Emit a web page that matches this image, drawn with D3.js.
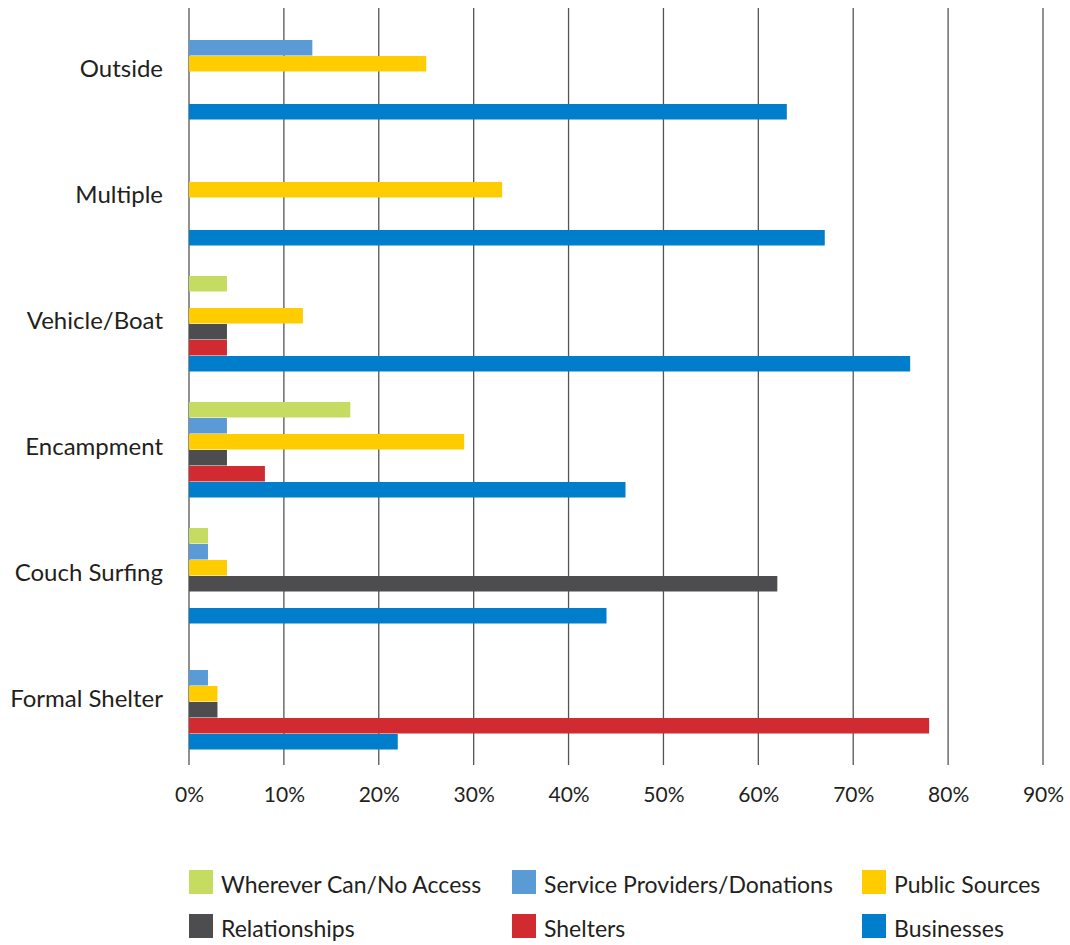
<!DOCTYPE html>
<html>
<head>
<meta charset="utf-8">
<script src="https://cdn.jsdelivr.net/npm/d3@7"></script>
<style>
  body { margin: 0; background: #fff; }
  text { font-family: Lato, "Noto Sans", sans-serif; fill: #231f20; }
</style>
</head>
<body>
<div id="graf"></div>
<script>
// Datos del gráfico
const categorias = ['Outside', 'Multiple', 'Vehicle/Boat', 'Encampment', 'Couch Surfing', 'Formal Shelter']
const series = ['Wherever Can/No Access', 'Service Providers/Donations', 'Public Sources', 'Relationships', 'Shelters', 'Businesses']
const colores = ['#c5dc62', '#5b9bd5', '#ffcc00', '#4d4d4f', '#d12b31', '#007dcb']

const wherever = [0, 0, 4, 17, 2, 0]
const servicios = [13, 0, 0, 4, 2, 2]
const publicas = [25, 33, 12, 29, 4, 3]
const relaciones = [0, 0, 4, 4, 62, 3]
const refugios = [0, 0, 4, 8, 0, 78]
const negocios = [63, 67, 76, 46, 44, 22]
const valores = [wherever, servicios, publicas, relaciones, refugios, negocios]

const ticks = [0, 10, 20, 30, 40, 50, 60, 70, 80, 90]

// Tamaños
const ancho = 1070
const alto = 945

const svg = d3.select('#graf')
    .append('svg')
    .attr('width', ancho)
    .attr('height', alto)

const x = d3.scaleLinear()
    .domain([0, 90])
    .range([189, 1043])

const y0 = d3.scaleBand()
    .domain(categorias)
    .range([9, 765])
    .paddingInner(30 / 126)
    .paddingOuter(15 / 126)

const y1 = d3.scaleBand()
    .domain(series)
    .range([0, y0.bandwidth()])

// Líneas de la cuadrícula
svg.append('g')
    .selectAll('line')
    .data(ticks)
    .enter()
    .append('line')
    .attr('x1', d => x(d))
    .attr('x2', d => x(d))
    .attr('y1', 8)
    .attr('y2', 765)
    .attr('stroke', '#555')
    .attr('stroke-width', 1.3)

// Etiquetas del eje X
const xAxis = d3.axisBottom(x)
    .tickValues(ticks)
    .tickFormat(d => d + '%')
    .tickSize(0)
    .tickPadding(0)

const gx = svg.append('g')
    .attr('transform', 'translate(0, 765)')
    .call(xAxis)
gx.select('.domain').remove()
gx.selectAll('text')
    .attr('dy', '37px')
    .style('font-size', '21px')
    .attr('fill', '#231f20')

// Barras
const grupos = svg.append('g')
    .selectAll('g')
    .data(categorias)
    .enter()
    .append('g')
    .attr('transform', d => `translate(0, ${y0(d)})`)

grupos.selectAll('rect')
    .data((d, i) => series.map((s, j) => ({ serie: s, valor: valores[j][i], color: colores[j] })))
    .enter()
    .append('rect')
    .attr('x', x(0))
    .attr('y', d => y1(d.serie))
    .attr('width', d => x(d.valor) - x(0))
    .attr('height', y1.bandwidth() - 0.5)
    .attr('fill', d => d.color)

// Etiquetas de categorías
const yAxis = d3.axisLeft(y0).tickSize(0).tickPadding(0)
const gy = svg.append('g')
    .attr('transform', 'translate(163, 0)')
    .call(yAxis)
gy.select('.domain').remove()
gy.selectAll('text')
    .attr('dy', '0.2em')
    .style('font-size', '24px')
    .attr('fill', '#231f20')

// Leyenda
const leyX = [189, 512, 862]
const leyY = [870, 914]
const leyenda = svg.append('g')
    .selectAll('g')
    .data(series)
    .enter()
    .append('g')
    .attr('transform', (d, i) => `translate(${leyX[i % 3]}, ${leyY[Math.floor(i / 3)]})`)

leyenda.append('rect')
    .attr('width', 24)
    .attr('height', 24)
    .attr('fill', (d, i) => colores[i])

leyenda.append('text')
    .attr('x', 32)
    .attr('y', 23)
    .style('font-size', '23px')
    .text(d => d)
</script>
</body>
</html>
